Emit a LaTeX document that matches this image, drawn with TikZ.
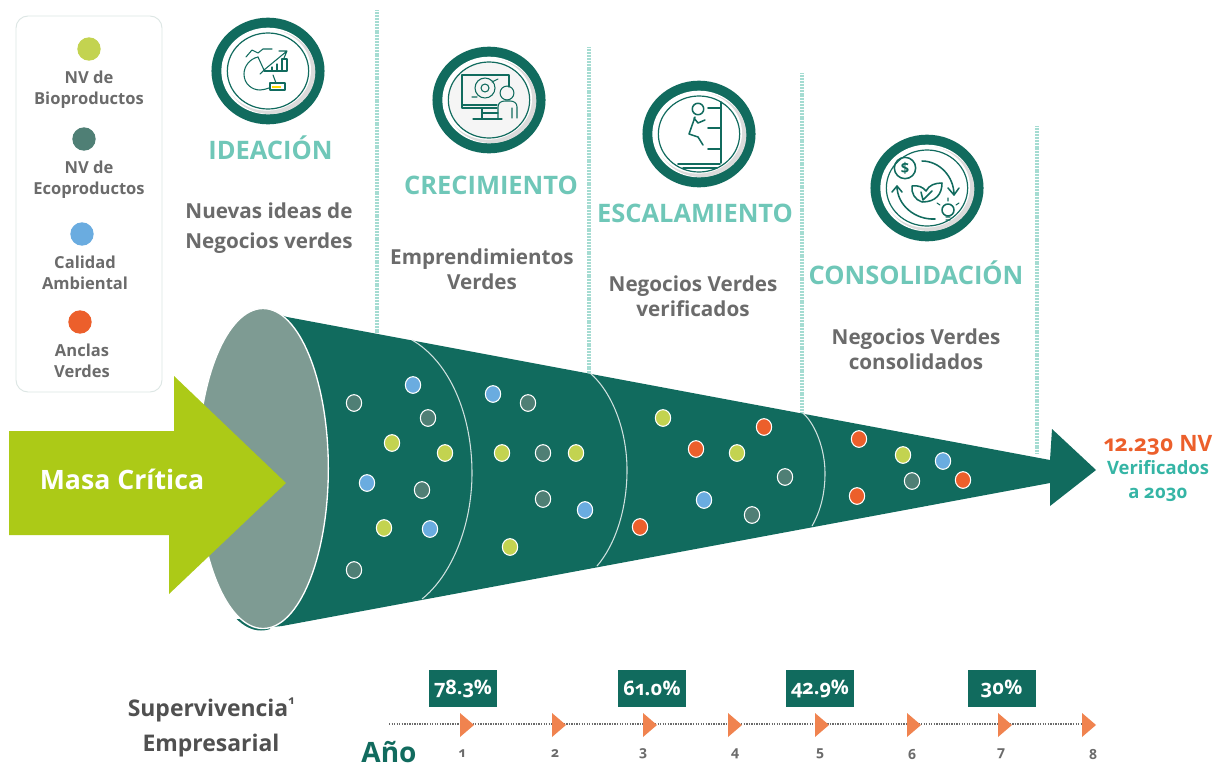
\documentclass[tikz,border=0pt]{standalone}
\usepackage{fontspec}
\setmainfont[Numbers=OldStyle]{Open Sans}
\definecolor{dkgreen}{HTML}{116B5E}
\definecolor{ellgray}{HTML}{7E9B93}
\definecolor{lime}{HTML}{ACCA17}
\definecolor{bio}{HTML}{C3D350}
\definecolor{eco}{HTML}{4F7F75}
\definecolor{blu}{HTML}{6AACE0}
\definecolor{ora}{HTML}{EC5F2B}
\definecolor{txtgray}{HTML}{6B6B6B}
\definecolor{dkgray}{HTML}{505050}
\definecolor{teal1}{HTML}{6FC7B8}
\definecolor{teal2}{HTML}{35B5A5}
\definecolor{tri}{HTML}{F0834F}
\definecolor{sep}{HTML}{A5DCD2}
\definecolor{legline}{HTML}{DCE6E4}
\usetikzlibrary{shapes.geometric}
\tikzset{
  x=0.75pt,y=-0.75pt,
  legdot/.style={circle,inner sep=0,minimum size=17.5pt},
  fdot/.style={ellipse,draw=white,line width=0.8pt,inner sep=0,minimum width=11.5pt,minimum height=12.5pt},
  legtxt/.style={text=txtgray,font=\fontsize{12.4}{15.7}\selectfont\bfseries,align=center},
  stage/.style={text=teal1,font=\fontsize{19.1}{22}\selectfont\bfseries},
  desc/.style={text=txtgray,font=\fontsize{15.5}{18.8}\selectfont\bfseries,align=center},
  descwide/.style={text=txtgray,font=\fontsize{15.5}{22.5}\selectfont\bfseries,align=center},
  sepline/.style={sep,line width=3pt,dash pattern=on 0.8pt off 0.35pt},
  segline/.style={draw=white!80!dkgreen,line width=0.8pt},
  pct/.style={fill=dkgreen,text=white,font=\fontsize{15}{17}\selectfont\bfseries,inner sep=0,minimum width=51pt,minimum height=28pt},
  yr/.style={text=txtgray,font=\fontsize{10.5}{12}\selectfont\bfseries},
  tritip/.style={fill=tri,draw=none},
  ic/.style={draw=dkgreen,line width=0.8pt,fill=none,line cap=round,line join=round},
  icb/.style={ic,line width=1.15pt},
}
\newcommand{\badge}[3]{%
  \fill[dkgreen] (#1,#2) ellipse [x radius=42.4pt,y radius=40pt];
  \fill[white] (#1,#2) ellipse [x radius=35pt,y radius=32.5pt];
  \fill[black!14] (#1+2,#2+1) ellipse [x radius=34pt,y radius=31.5pt];
  \fill[white] (#1-1,#2-1) ellipse [x radius=33pt,y radius=30.5pt];
  \draw[dkgreen,line width=0.9pt,fill=#3] (#1,#2) ellipse [x radius=30.5pt,y radius=28.5pt];
}
\begin{document}
\begin{tikzpicture}
\useasboundingbox (0,0) rectangle (1223,768);
\fill[white] (0,0) rectangle (1223,768);
% separators
\draw[sepline] (377,10) -- (377,336);
\draw[sepline] (589,47) -- (589,374);
\draw[sepline] (802,73) -- (802,415);
\draw[sepline] (1037,126) -- (1037,453);
% legend
\draw[legline,line width=0.7pt,rounded corners=9pt] (16,16) rectangle (162,392);
\node[legdot,fill=bio] (l1) at (89,49) {};
\node[legtxt] (lt1) at (89,90) {NV de\\Bioproductos};
\node[legdot,fill=eco] (l2) at (84,139) {};
\node[legtxt] (lt2) at (89,180) {NV de\\Ecoproductos};
\node[legdot,fill=blu] (l3) at (82,234) {};
\node[legtxt] (lt3) at (85,273) {Calidad\\Ambiental};
\node[legdot,fill=ora] (l4) at (80,322) {};
\node[legtxt] (lt4) at (82,361) {Anclas\\Verdes};
% funnel
\fill[dkgreen] (287,317) -- (1050,460) -- (1052,429) -- (1096,470) -- (1050,506) -- (1050,483) -- (282,626) -- (263,628) -- (263,309) -- cycle;
\begin{scope}
 \clip (236,619) rectangle (270,640);
 \fill[dkgreen] (261,470.5) ellipse [x radius=49pt,y radius=120pt];
\end{scope}
\draw[segline] (412,340) .. controls (450,362) and (472,415) .. (472,473) .. controls (472,525) and (452,575) .. (422,599);
\draw[segline] (590,373) .. controls (612,392) and (627,430) .. (627,470) .. controls (627,510) and (615,545) .. (597,566);
\draw[segline] (803,413) .. controls (816,425) and (825,450) .. (825,473) .. controls (825,495) and (820,512) .. (812,526);
\fill[ellgray,draw=white,line width=1pt] (263,468.5) ellipse [x radius=49pt,y radius=120pt];
% arrow
\fill[lime] (9,431) -- (174,431) -- (174,376) -- (286,483) -- (169,594) -- (169,535) -- (9,535) -- cycle;
\node[text=white,font=\fontsize{20}{25}\selectfont\bfseries] (mc) at (122,479) {Masa Crítica};
% dots
\foreach \x/\y/\c in {354/403/eco,413/385/blu,428/418/eco,392/443/bio,445/453/bio,367/483/blu,422/490/eco,384/528/bio,430/529/blu,354/570/eco,
  493/394/blu,528/403/eco,502/453/bio,543/453/eco,576/453/bio,543/499/eco,585/510/blu,510/547/bio,
  663/418/bio,696/449/ora,737/453/bio,764/427/ora,785/477/eco,704/500/blu,752/515/eco,640/527/ora,
  859/439/ora,903/455/bio,943/461/blu,912/481/eco,963/480/ora,857/496/ora}
  \node[fdot,fill=\c] at (\x,\y) {};
% badges
\badge{268}{71}{white}
\badge{489}{100}{black!4}
\badge{699}{134}{white}
\badge{927}{188}{white}
% icon 1
\begin{scope}[shift={(268,71)}]
 \draw[ic] (-10,-14) -- (-4,-1) -- (-8,3);
 \draw[ic] (-10,-14) .. controls (-19,-12) and (-24,-4) .. (-24,3) .. controls (-24,13) and (-16,19) .. (-8,19) .. controls (-5,19) and (-2,18) .. (1,17);
 \draw[ic] (-4,-1) -- (19,-20) (11,-20) -- (19,-20) -- (16,-13);
 \draw[ic] (-22,-14) -- (-16,-21) -- (-10,-18) -- (-5,-22) -- (4,-22);
 \draw[ic] (-4,0) -- (19,0) -- (19,-12) -- (14,-12) -- (14,0) (9,0) -- (9,-7) (4,0) -- (4,-4);
 \draw[ic] (8,12) -- (5,4);
 \draw[ic,fill=white] (2,12) rectangle (17,19);
 \fill[yellow!80!orange] (4,14.5) rectangle (13,16.5);
\end{scope}
% icon 2
\begin{scope}[shift={(489,100)}]
 \draw[ic] (20,-13) -- (20,-25) -- (-27,-25) -- (-27,8) -- (8,8) (-27,5) -- (8,5);
 \draw[ic] (-4,-12) circle[radius=7.5pt];
 \draw[ic] (-4,-12) circle[radius=3pt];
 \draw[ic] (-12,-3) -- (-17,-3) (3,-18) -- (9,-21);
 \draw[ic] (-7,8) -- (-7,19) (-16,19) -- (13,19) (-6,13) -- (9,13);
 \draw[ic] (18,-7) circle[radius=5.2pt];
 \draw[ic] (9,18) -- (9,7) .. controls (9,3) and (12,1) .. (16,1) -- (21,1) .. controls (25,1) and (28,3) .. (28,7) -- (28,18) (23,8) -- (23,18);
\end{scope}
% icon 3
\begin{scope}[shift={(699,134)}]
 \draw[icb] (-1,-25) circle[radius=4.3pt];
 \draw[icb] (-4,-17) -- (-10,0) -- (-1,3) -- (4,11) (-5,-16) -- (-1,-11) -- (6,-14);
 \draw[icb] (22,-32) -- (22,29) (9,-26) -- (22,-26) (9,-6) -- (22,-6) (9,15) -- (22,15);
 \draw[icb] (-21,30) -- (21,30) (-16,34) -- (18,34);
\end{scope}
% icon 4
\begin{scope}[shift={(927,188)}]
 \draw[icb] (-22,-20) circle[radius=8pt];
 \node[text=dkgreen,font=\fontsize{11}{11}\selectfont\bfseries,inner sep=0] (dollar) at (-22,-20) {\$};
 \draw[icb] (-5,-27) .. controls (12,-27) and (27,-12) .. (27,7) (21,0) -- (27,7) -- (32,0);
 \draw[icb] (8,31) .. controls (-12,32) and (-30,17) .. (-30,-2) (-35,4) -- (-30,-2) -- (-25,4);
 \draw[icb] (-5,14) .. controls (-12,12) and (-16,5) .. (-15,-2) .. controls (-9,-3) and (-4,-1) .. (-1,3) .. controls (2,-3) and (8,-5) .. (15,-5) .. controls (15,6) and (9,14) .. (-5,14) (-4,12) -- (-6,4) (-4,12) -- (5,3);
 \draw[icb,fill=white] (21,22) circle[radius=4.5pt];
 \draw[ic] (19,29) -- (23,29) (19,32) -- (23,32) (29,17) -- (32,15) (13,17) -- (10,15) (21,13) -- (21,10);
\end{scope}
% headings
\node[stage] (h1) at (270.5,148) {IDEACIÓN};
\node[stage] (h2) at (491,185.5) {CRECIMIENTO};
\node[stage] (h3) at (695,213) {ESCALAMIENTO};
\node[stage] (h4) at (916,272.5) {CONSOLIDACIÓN};
\node[descwide] (d1) at (269,228.5) {Nuevas ideas de\\Negocios verdes};
\node[desc] (d2) at (482,269.5) {Emprendimientos\\Verdes};
\node[desc] (d3) at (693,296) {Negocios Verdes\\verificados};
\node[desc] (d4) at (916,349.5) {Negocios Verdes\\consolidados};
% result
\node[text=ora,font=\fontsize{16.9}{18}\selectfont\bfseries] (r1) at (1158,445) {12.230 NV};
\node[text=teal2,font=\fontsize{13.8}{18}\selectfont\bfseries,align=center] (r2) at (1158,481) {Verificados\\a 2030};
% timeline
\coordinate (t0) at (389,724);
\coordinate (t1) at (1090,724);
\draw[txtgray,line width=0.9pt,dash pattern=on 1pt off 0.9pt] (t0) -- (t1);
\foreach \x in {460,552,643,728,815,907,998,1082}
  \fill[tritip] (\x,713) -- (\x+14,725) -- (\x,737) -- cycle;
\foreach \x/\n in {462/1,555/2,643/3,735/4,820/5,912/6,1001/7,1093/8}
  \node[yr] at (\x,754) {\n};
\node[pct] (p1) at (463,688.5) {78.3\%};
\node[pct] (p2) at (652,688.5) {61.0\%};
\node[pct] (p3) at (820,688.5) {42.9\%};
\node[pct] (p4) at (1001.5,688.5) {30\%};
\node[text=dkgray,font=\fontsize{17.2}{22}\selectfont\bfseries] (s1) at (211,710) {Supervivencia\raisebox{0.5em}{\fontsize{9}{9}\selectfont 1}};
\node[text=dkgray,font=\fontsize{17.2}{22}\selectfont\bfseries] (s2) at (211,746) {Empresarial};
\node[text=dkgreen,font=\fontsize{21}{26}\selectfont\bfseries] (ano) at (389,752) {Año};
\end{tikzpicture}
\end{document}
